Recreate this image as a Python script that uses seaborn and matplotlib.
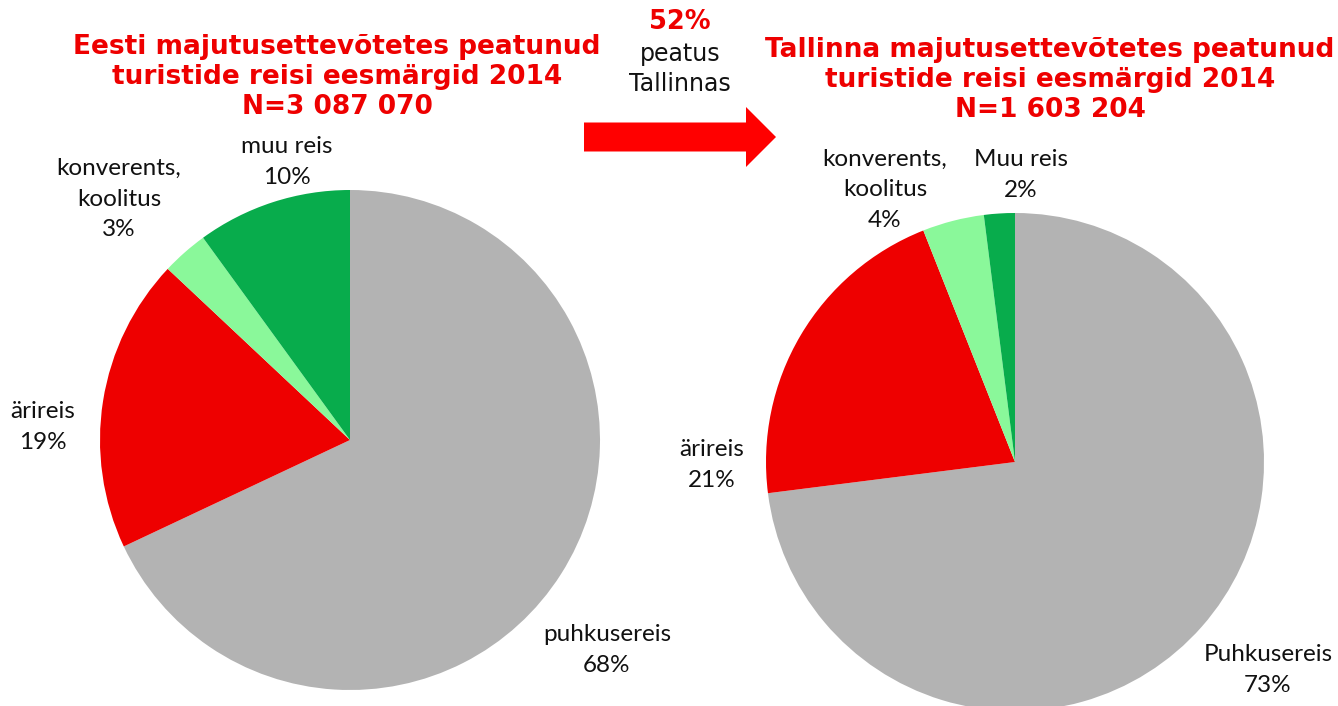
import matplotlib
matplotlib.use("Agg")
import matplotlib.pyplot as plt
import seaborn as sns
from matplotlib.patches import FancyArrow

sns.set_theme(style="white")
plt.rcParams['font.family'] = ['DejaVu Sans']

categories_left = ["puhkusereis", "ärireis", "konverents,\nkoolitus", "muu reis"]
values_left = [68, 19, 3, 10]
categories_right = ["Puhkusereis", "ärireis", "konverents,\nkoolitus", "Muu reis"]
values_right = [73, 21, 4, 2]
title_left = "Eesti majutusettevõtetes peatunud\nturistide reisi eesmärgid 2014\nN=3 087 070"
title_right = "Tallinna majutusettevõtetes peatunud\nturistide reisi eesmärgid 2014\nN=1 603 204"
share_text = "52%"
share_sub = "peatus\nTallinnas"

colors = ["#B3B3B3", "#EE0000", "#8AF89A", "#08AC4C"]

W, H = 1338, 706
fig = plt.figure(figsize=(W / 100, H / 100), dpi=100)

def px(x, y):
    return x / W, 1 - y / H

def pie_axes(cx, cy, r):
    return fig.add_axes([(cx - r) / W, (H - cy - r) / H, 2 * r / W, 2 * r / H])

for (cx, cy, r), vals in [((350, 440, 250), values_left), ((1015, 462, 249), values_right)]:
    ax = pie_axes(cx, cy, r)
    ax.pie(vals, colors=colors, startangle=90, counterclock=False,
           wedgeprops=dict(linewidth=0), radius=1)
    ax.set_xlim(-1, 1)
    ax.set_ylim(-1, 1)
    ax.set_aspect("equal")
    ax.axis("off")

lab_font = dict(family=["Lato", "DejaVu Sans"], fontsize=17.5, color="#111111",
                ha="center", va="center", linespacing=1.55)

left_pos = [(607, 650), (43, 427), (119, 199), (287, 162)]
right_pos = [(1268, 670), (712, 465), (885, 190), (1021, 175)]
for cat, v, (x, y) in zip(categories_left, values_left, left_pos):
    fig.text(*px(x, y), f"{cat}\n{v}%", **lab_font)
for cat, v, (x, y) in zip(categories_right, values_right, right_pos):
    fig.text(*px(x, y), f"{cat}\n{v}%", **lab_font)

title_font = dict(fontsize=19, fontweight="bold", color="#EE0000",
                  ha="center", va="center", linespacing=1.2)
fig.text(*px(337, 77), title_left, **title_font)
fig.text(*px(1050, 80), title_right, **title_font)

fig.text(*px(680, 22), share_text, fontsize=18.5, fontweight="bold",
         color="#EE0000", ha="center", va="center")
fig.text(*px(680, 69), share_sub, fontsize=17, color="#111111",
         ha="center", va="center", linespacing=1.3)

x0, y0 = px(584, 137)
x1, _ = px(776, 137)
shaft_w = 29 / H
head_w = 60 / H
arrow = FancyArrow(x0, y0, x1 - x0, 0, width=shaft_w, head_width=head_w,
                   head_length=30 / W, length_includes_head=True,
                   color="#FF0000", transform=fig.transFigure, linewidth=0)
fig.patches.append(arrow)

fig.savefig("out.png", dpi=100)
